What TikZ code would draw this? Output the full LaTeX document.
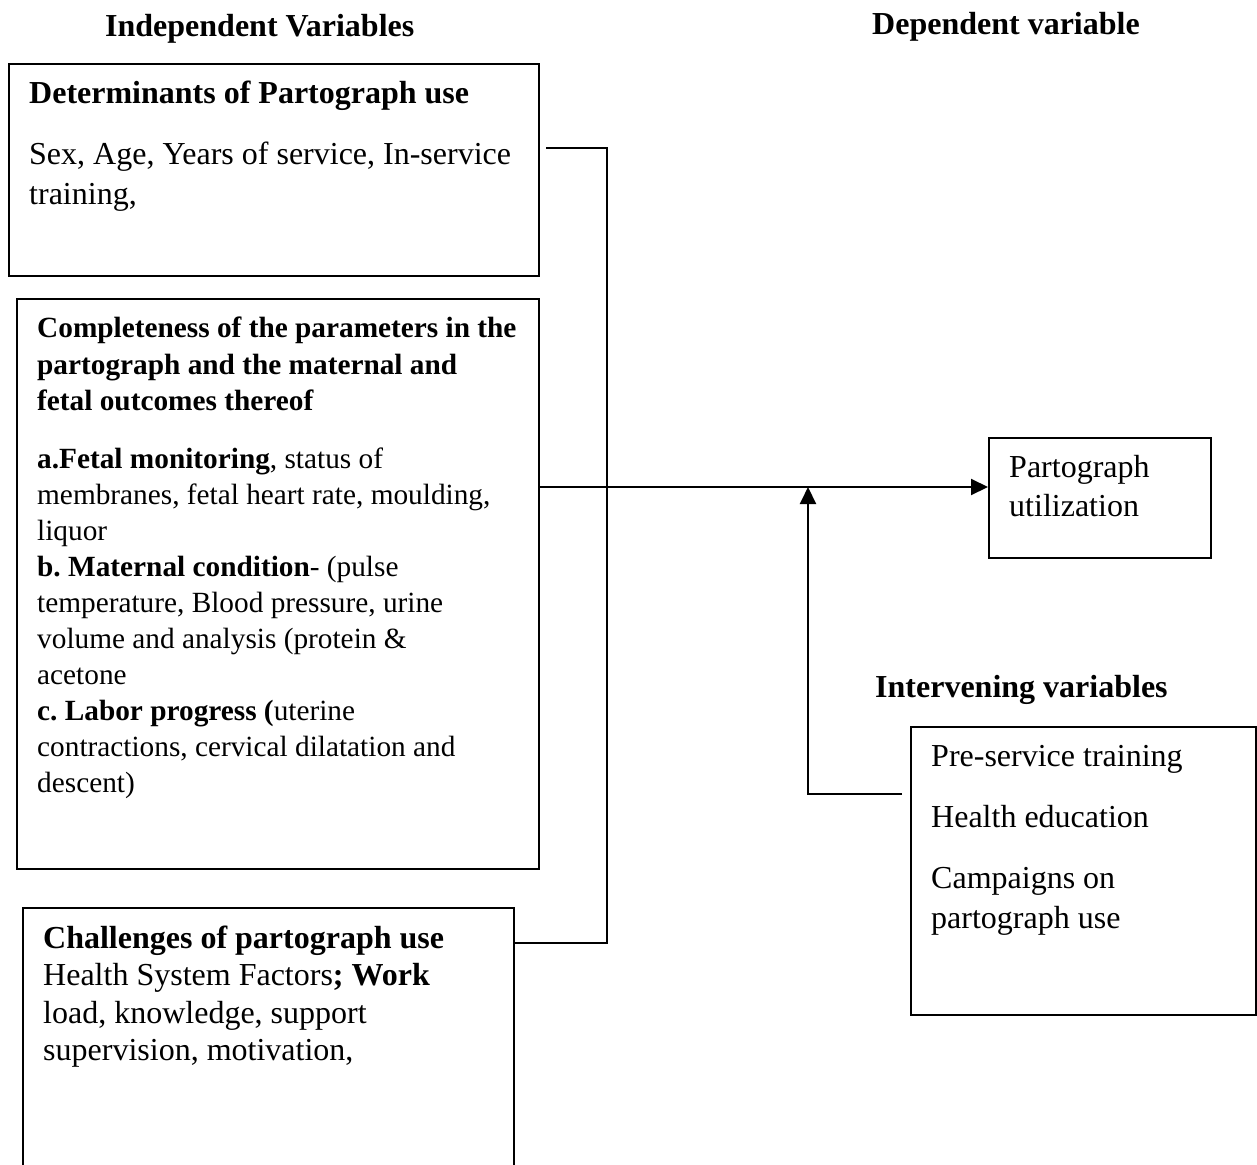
\documentclass[tikz,border=0pt]{standalone}
\usepackage{fontspec}
\setmainfont{Liberation Serif}
\usetikzlibrary{arrows.meta}
\newcommand\fsz[2]{\fontsize{#1}{#2}\selectfont}
\frenchspacing
\begin{document}
\begin{tikzpicture}[x=1pt,y=-1pt,
  box/.style={draw,line width=2.2pt,inner sep=0pt,anchor=north west},
  txt/.style={anchor=base west,inner sep=0pt},
  conn/.style={line width=2pt},
  arr/.style={line width=2pt,-{Triangle[length=17pt,width=16pt]}},
  hdr/.style={anchor=base west,inner sep=0pt,font=\fsz{32}{38}\bfseries}
]
\useasboundingbox[fill=white] (0,0) rectangle (1257,1164);

% headers
\node[hdr] (hind) at (105,37) {Independent Variables};
\node[hdr] (hdep) at (872,35) {Dependent variable};
\node[hdr] (hint) at (875,697) {Intervening variables};

% boxes
\node[box,minimum width=530pt,minimum height=212pt] (det) at (8,63) {};
\node[box,minimum width=522pt,minimum height=570pt] (comp) at (16,298) {};
\begin{scope}
\clip (0,0) rectangle (1257,1164);
\node[box,minimum width=491pt,minimum height=300pt] (chal) at (22,907) {};
\end{scope}
\node[box,minimum width=222pt,minimum height=120pt] (parto) at (988,437) {};
\node[box,minimum width=345pt,minimum height=288pt] (interv) at (910,726) {};

% texts
\node[txt,font=\fsz{32}{40}\bfseries] (dethead) at (29,103) {Determinants of Partograph use};
\node[txt,font=\fsz{32}{40}] (detbody) at (29,164) {\parbox[t]{500pt}{Sex, Age, Years of service, In-service\\training,}};

\node[txt,font=\fsz{29.3}{36.5}\bfseries] (comphead) at (37,337.5) {\parbox[t]{495pt}{Completeness of the parameters in the\\partograph and the maternal and\\fetal outcomes thereof}};
\node[txt,font=\fsz{29.3}{36}] (compbody) at (37,468) {\parbox[t]{495pt}{\textbf{a.Fetal monitoring}, status of\\membranes, fetal heart rate, moulding,\\liquor\\\textbf{b. Maternal condition}- (pulse\\temperature, Blood pressure, urine\\volume and analysis (protein \&\\acetone\\\textbf{c. Labor progress (}uterine\\contractions, cervical dilatation and\\descent)}};

\node[txt,font=\fsz{32}{37.5}] (chaltxt) at (43,948) {\parbox[t]{470pt}{\textbf{Challenges of partograph use}\\Health System Factors\textbf{; Work}\\load, knowledge, support\\supervision, motivation,}};

\node[txt,font=\fsz{32}{39}] (partotxt) at (1009,477) {\parbox[t]{200pt}{Partograph\\utilization}};

\node[txt,font=\fsz{32}{40}] (iv1) at (931,766) {Pre-service training};
\node[txt,font=\fsz{32}{40}] (iv2) at (931,827) {Health education};
\node[txt,font=\fsz{32}{40}] (iv3) at (931,888) {\parbox[t]{300pt}{Campaigns on\\partograph use}};

% connectors
\coordinate (b1) at ([xshift=6pt,yshift=-85pt]det.north east);
\coordinate (jn) at (607,148);
\draw[conn] (b1) -- (jn) |- ([yshift=-36pt]chal.north east);

\coordinate (mrow) at (700,487);
\draw[arr] (comp.east |- mrow) -- (parto.west |- mrow);

\coordinate (ivend) at (902,794);
\coordinate (vx) at (808,794);
\draw[arr] (ivend) -- (vx) -- (vx |- mrow);
\end{tikzpicture}
\end{document}
